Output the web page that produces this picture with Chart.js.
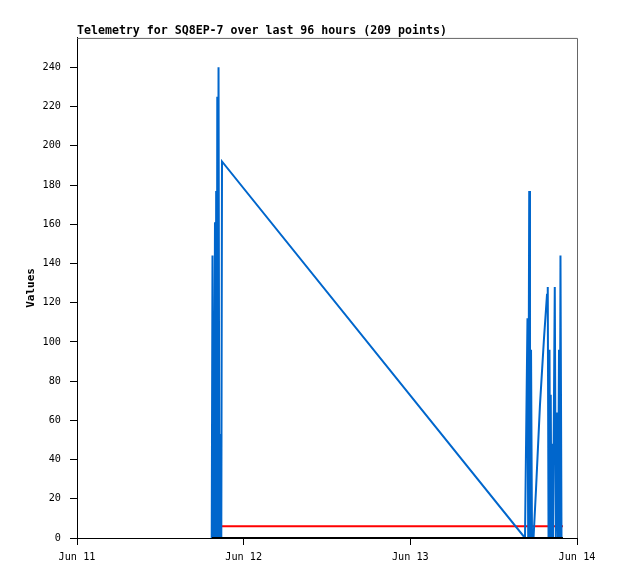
<!DOCTYPE html>
<html>
<head>
<meta charset="utf-8">
<script src="https://cdn.jsdelivr.net/npm/chart.js@4/dist/chart.umd.min.js"></script>
<style>
  body { margin: 0; background: #fff; }
  #wrap { width: 618px; height: 579px; }
</style>
</head>
<body>
<div id="wrap"><canvas id="grafico" width="618" height="579"></canvas></div>
<script>
// dados (x em horas desde Jun 11 00:00)
const blueHours = [19.40, 19.51, 19.62, 19.72, 19.87, 19.95, 20.04, 20.12, 20.20, 20.28, 20.38, 20.50, 20.60, 20.70, 20.78, 20.88,
  64.51, 64.87, 64.97, 65.12, 65.23, 65.38, 65.52, 65.74, 66.10, 66.67, 67.25, 67.68, 67.79, 67.90,
  68.04, 68.14, 68.22, 68.31, 68.40, 68.54, 68.80, 68.95, 69.09, 69.16, 69.26, 69.41, 69.52, 69.62, 69.77];
const blueValues = [0, 144, 0, 17, 161, 0, 177, 0, 225, 0, 240, 0, 53, 48, 0, 192,
  0, 112, 0, 177, 0, 96, 0, 0, 25, 68, 102, 124, 128, 0,
  96, 0, 73, 0, 48, 0, 128, 0, 64, 31, 0, 96, 0, 144, 0];
const redHours = [20.88, 69.98];
const redValues = [6, 6];
const blackHours = [19.44, 69.98];
const blackValues = [0, 0];

const xTickHours = [0, 24, 48, 72];
const xTickLabels = ['Jun 11', 'Jun 12', 'Jun 13', 'Jun 14'];
const yTicks = [0, 20, 40, 60, 80, 100, 120, 140, 160, 180, 200, 220, 240];

function pontos(xs, ys) {
  return xs.map((x, i) => ({ x: x, y: ys[i] }));
}

// moldura cinza em cima e à direita
const moldura = {
  id: 'moldura',
  afterDatasetsDraw(chart) {
    const { ctx, chartArea: a } = chart;
    ctx.save();
    ctx.strokeStyle = '#666';
    ctx.lineWidth = 1;
    ctx.beginPath();
    ctx.moveTo(a.left, a.top + 0.5);
    ctx.lineTo(a.right + 0.5, a.top + 0.5);
    ctx.lineTo(a.right + 0.5, a.bottom);
    ctx.stroke();
    ctx.restore();
  }
};

const fonteMono = "'DejaVu Sans Mono', 'Liberation Mono', monospace";

new Chart(document.getElementById('grafico'), {
  type: 'line',
  data: {
    datasets: [
      { data: pontos(blackHours, blackValues), borderColor: '#000', borderWidth: 2 },
      { data: pontos(blueHours, blueValues), borderColor: '#0066cc', borderWidth: 2 },
      { data: pontos(redHours, redValues), borderColor: '#ff0000', borderWidth: 2 }
    ]
  },
  options: {
    responsive: false,
    animation: false,
    parsing: false,
    elements: { point: { radius: 0 }, line: { tension: 0, fill: false } },
    layout: { padding: { top: 0, right: 41, left: 0, bottom: 0 } },
    plugins: {
      legend: { display: false },
      tooltip: { enabled: false },
      title: {
        display: true,
        text: 'Telemetry for SQ8EP-7 over last 96 hours (209 points)',
        align: 'start',
        fullSize: false,
        color: '#000',
        font: { family: fonteMono, size: 11.6, weight: 'bold', lineHeight: 1.2 },
        padding: { top: 24, bottom: 0 }
      }
    },
    scales: {
      x: {
        type: 'linear',
        min: 0,
        max: 72,
        afterBuildTicks: s => { s.ticks = xTickHours.map(v => ({ value: v })); },
        afterFit: s => { s.height = 41; },
        ticks: {
          color: '#000',
          padding: 6,
          maxRotation: 0,
          font: { family: fonteMono, size: 10.2 },
          callback: (v) => xTickLabels[xTickHours.indexOf(v)]
        },
        grid: { drawOnChartArea: false, drawTicks: true, tickLength: 7, color: '#000' },
        border: { display: true, color: '#000', width: 1 }
      },
      y: {
        type: 'linear',
        min: 0,
        max: 255,
        afterBuildTicks: s => { s.ticks = yTicks.map(v => ({ value: v })); },
        afterFit: s => { s.width = 77; },
        ticks: {
          color: '#000',
          padding: 9,
          font: { family: fonteMono, size: 10.2 }
        },
        grid: { drawOnChartArea: false, drawTicks: true, tickLength: 7, color: '#000' },
        border: { display: true, color: '#000', width: 1 },
        title: {
          display: true,
          text: 'Values',
          color: '#000',
          font: { family: fonteMono, size: 11, weight: 'bold', lineHeight: 1.2 },
          padding: { top: 25, bottom: 0 }
        }
      }
    }
  },
  plugins: [moldura]
});
</script>
</body>
</html>
